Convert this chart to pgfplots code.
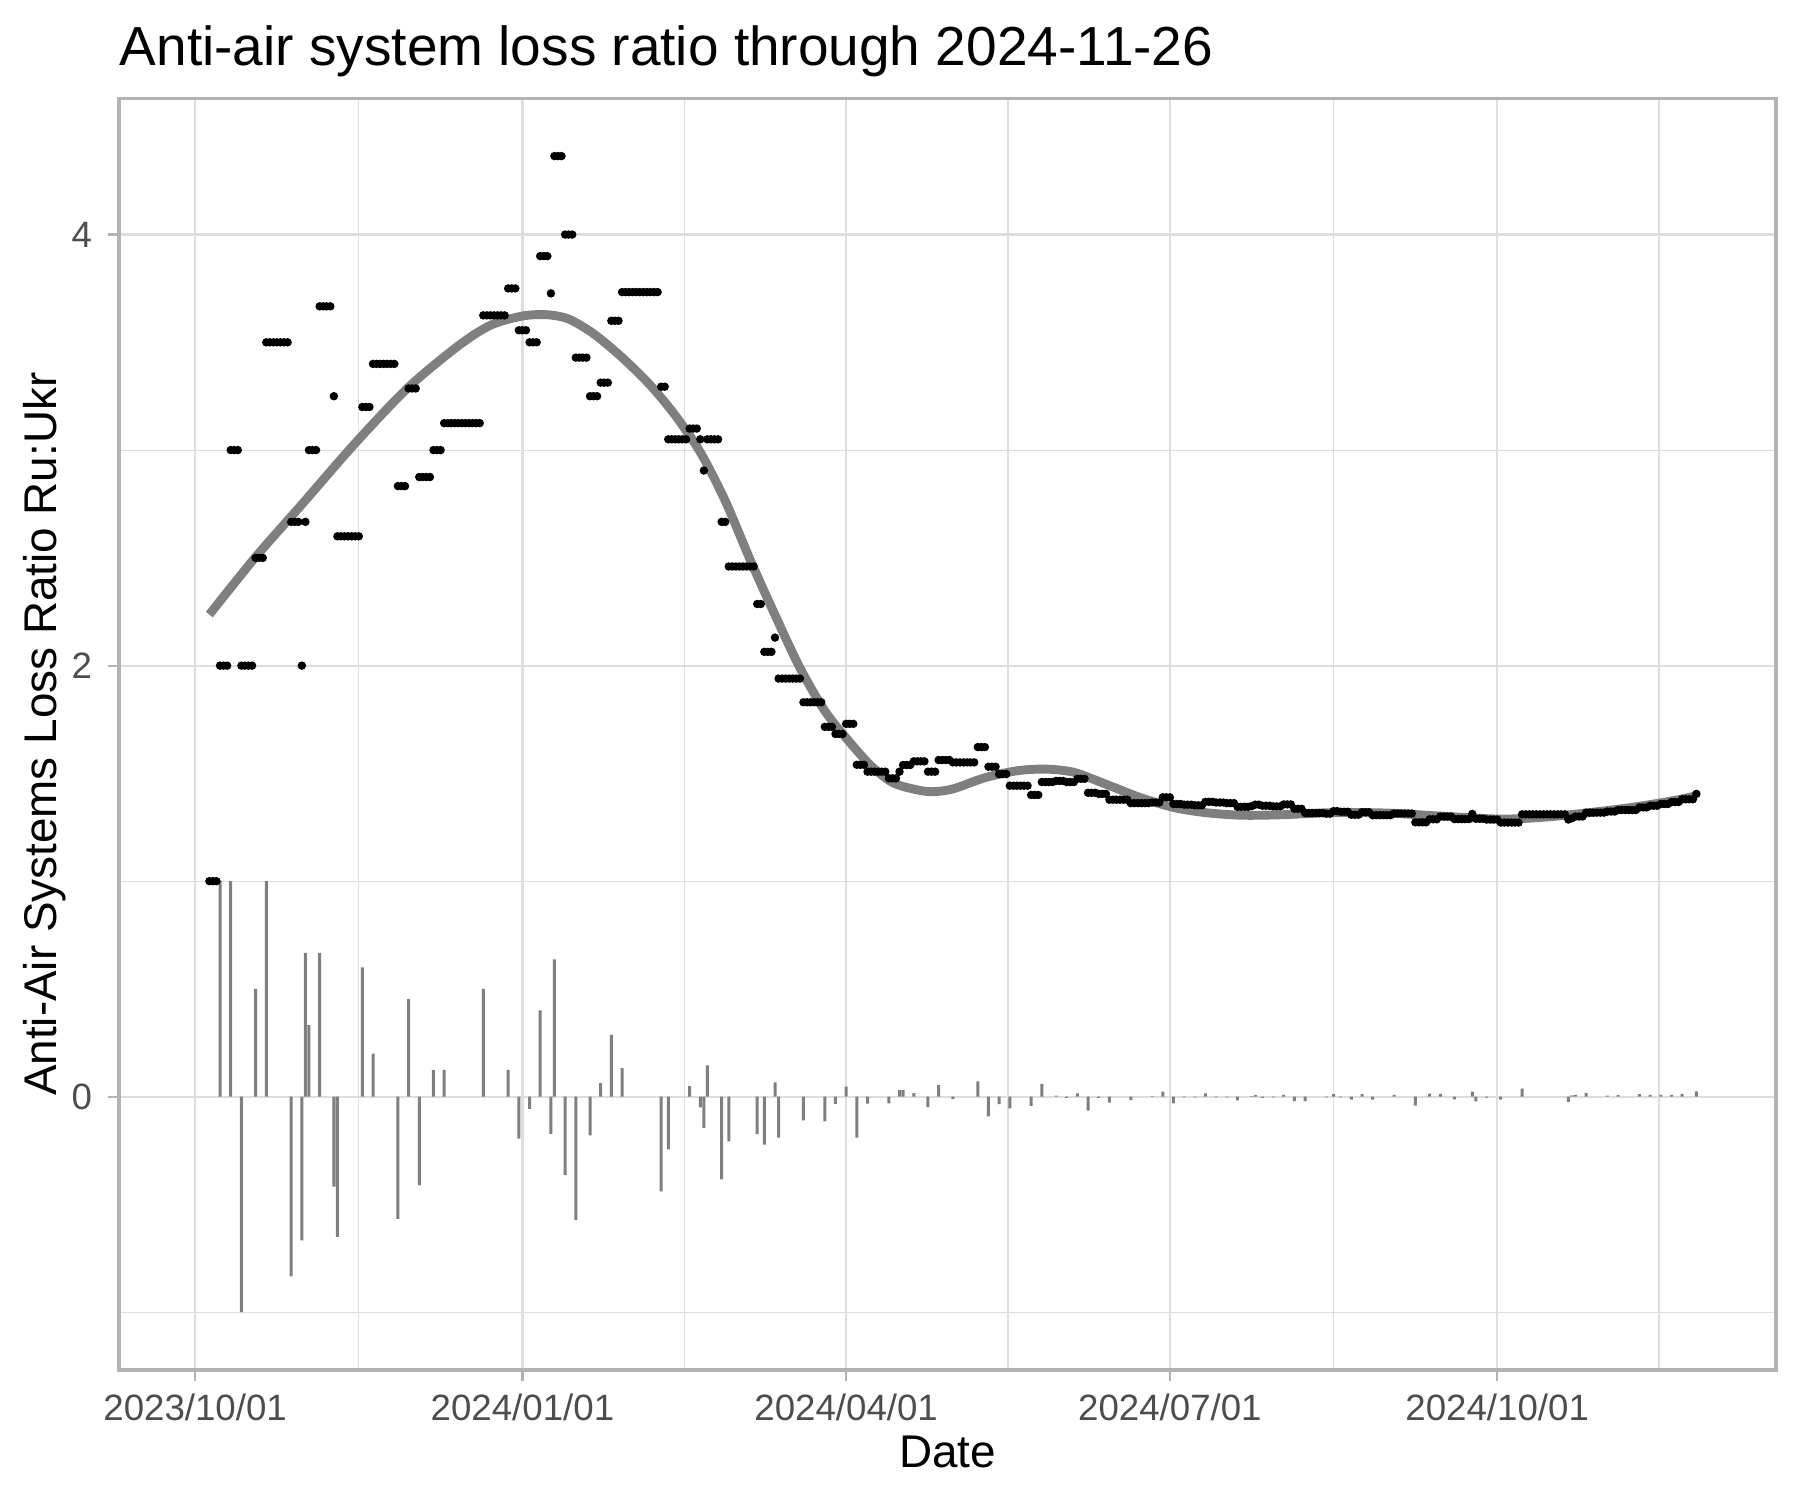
\documentclass[border=0pt]{standalone}
\usepackage{pgfplots}
\pgfplotsset{compat=1.18}
\usepackage{fontspec}
\setmainfont{Liberation Sans}
\definecolor{gg50}{HTML}{7F7F7F}
\definecolor{gg87}{HTML}{DEDEDE}
\definecolor{gg70}{HTML}{B3B3B3}
\definecolor{gg30}{HTML}{4D4D4D}
\begin{document}
\begin{tikzpicture}
\path[use as bounding box] (-28.56pt,-31.2pt) rectangle (403.44pt,328.8pt);
\begin{axis}[
  at={(0pt,0pt)}, anchor=south west,
  scale only axis, width=397.7pt, height=305.2pt,
  xmin=-21.4, xmax=444.4, ymin=-1.268, ymax=4.632,
  xtick={0,92,183,274,366},
  xticklabels={2023/10/01,2024/01/01,2024/04/01,2024/07/01,2024/10/01},
  minor xtick={46,137.5,228.5,320,411.5},
  ytick={0,2,4}, yticklabels={0,2,4},
  minor ytick={-1,1,3},
  grid=both,
  major grid style={gg87, line width=0.53pt},
  minor grid style={gg87, line width=0.27pt},
  axis line style={gg70, line width=0.85pt},
  tick align=outside, xtick pos=left, ytick pos=left,
  major tick length=2.75pt, minor tick length=0pt,
  tick style={gg70, line width=0.53pt},
  tick label style={font=\fontsize{8.8}{10}\selectfont, text=gg30},
  xticklabel style={anchor=base, inner sep=0pt, yshift=-9.35pt},
  yticklabel style={anchor=east, inner sep=0pt, xshift=-3.5pt},
  title={Anti-air system loss ratio through 2024-11-26},
  title style={at={(axis description cs:0,1.028)}, anchor=base west, inner sep=0pt, yshift=-6.6pt, font=\fontsize{13.2}{15.8}\selectfont},
  xlabel={Date},
  xlabel style={at={(axis description cs:0.5,-0.0763)}, anchor=base, inner sep=0pt, font=\fontsize{11}{13}\selectfont},
  ylabel={Anti-Air Systems Loss Ratio Ru:Ukr},
  ylabel style={at={(axis description cs:-0.038,0.5)}, anchor=base, inner sep=0pt, font=\fontsize{11}{13}\selectfont},
]
% daily change of the ratio
\addplot[ybar, bar width=0.72pt, bar shift=0pt, fill=gg50, draw=none] table[row sep=\\] {
x y\\
7 1\\ 10 1\\ 13 -1\\ 17 0.5\\ 20 1\\ 27 -0.833\\ 30 -0.667\\ 31 0.667\\ 32 0.333\\ 35 0.667\\
39 -0.417\\ 40 -0.65\\ 47 0.6\\ 50 0.2\\ 57 -0.567\\ 60 0.453\\ 63 -0.411\\ 67 0.125\\ 70 0.125\\
81 0.5\\ 88 0.125\\ 91 -0.194\\ 94 -0.056\\ 97 0.4\\ 100 -0.173\\ 101 0.637\\ 104 -0.364\\
107 -0.571\\ 111 -0.179\\ 114 0.063\\ 117 0.287\\ 120 0.133\\ 131 -0.439\\ 133 -0.244\\
139 0.05\\ 142 -0.05\\ 143 -0.145\\ 144 0.145\\ 148 -0.383\\ 150 -0.207\\ 158 -0.174\\
160 -0.222\\ 163 0.066\\ 164 -0.19\\ 171 -0.11\\ 177 -0.114\\ 180 -0.033\\ 183 0.047\\
186 -0.19\\ 189 -0.032\\ 195 -0.031\\ 198 0.031\\ 199 0.031\\ 202 0.017\\ 206 -0.048\\
209 0.054\\ 213 -0.011\\ 220 0.071\\ 223 -0.091\\ 226 -0.034\\ 229 -0.054\\ 235 -0.043\\
238 0.06\\ 242 0.005\\ 245 -0.005\\ 248 0.015\\ 251 -0.065\\ 254 -0.005\\ 257 -0.027\\
263 -0.016\\ 269 0.003\\ 272 0.024\\ 275 -0.031\\ 278 -0.003\\ 281 -0.003\\ 284 0.016\\
287 -0.003\\ 290 -0.003\\ 293 -0.017\\ 297 0.003\\ 298 0.007\\ 300 -0.005\\ 303 -0.003\\
306 0.009\\ 309 -0.02\\ 312 -0.02\\ 318 -0.003\\ 320 0.012\\ 322 -0.003\\ 325 -0.014\\
328 0.012\\ 331 -0.014\\ 337 0.008\\ 343 -0.041\\ 347 0.014\\ 350 0.013\\ 354 -0.012\\
359 0.024\\ 360 -0.022\\ 363 -0.004\\ 367 -0.014\\ 373 0.038\\ 386 -0.024\\ 387 0.006\\
388 0.008\\ 391 0.018\\ 397 0.005\\ 400 0.007\\ 406 0.012\\ 409 0.008\\ 412 0.008\\
415 0.009\\ 418 0.013\\ 422 0.025\\
};
% smoothed trend
\addplot[gg50, line width=2.13pt, smooth, no marks] coordinates {
(4,2.237)(17,2.504)(30,2.748)(45,3.032)(60,3.292)(74,3.484)(83,3.579)(92,3.622)(99,3.628)
(105,3.608)(112,3.54)(120,3.43)(128,3.30)(135,3.16)(142,2.99)(149,2.765)(156,2.492)
(163,2.235)(170,1.99)(177,1.79)(184,1.645)(190,1.535)(196,1.458)(202,1.427)(207,1.415)
(213,1.428)(222,1.48)(231,1.512)(239,1.52)(247,1.505)(256,1.45)(265.5,1.389)(275,1.342)
(284,1.318)(294,1.306)(305,1.308)(320,1.318)(335,1.316)(350,1.302)(367,1.288)(380,1.298)
(393,1.32)(405,1.345)(415,1.372)(422,1.396)
};
% daily ratio
\addplot[only marks, mark=*, mark size=0.8pt, black] table[row sep=\\] {
x y\\
4 1\\ 5 1\\ 6 1\\
7 2\\ 8 2\\ 9 2\\
10 3\\ 11 3\\ 12 3\\
13 2\\ 14 2\\ 15 2\\ 16 2\\
17 2.5\\ 18 2.5\\ 19 2.5\\
20 3.5\\ 21 3.5\\ 22 3.5\\ 23 3.5\\ 24 3.5\\ 25 3.5\\ 26 3.5\\
27 2.667\\ 28 2.667\\ 29 2.667\\
30 2\\ 31 2.667\\
32 3\\ 33 3\\ 34 3\\
35 3.667\\ 36 3.667\\ 37 3.667\\ 38 3.667\\
39 3.25\\
40 2.6\\ 41 2.6\\ 42 2.6\\ 43 2.6\\ 44 2.6\\ 45 2.6\\ 46 2.6\\
47 3.2\\ 48 3.2\\ 49 3.2\\
50 3.4\\ 51 3.4\\ 52 3.4\\ 53 3.4\\ 54 3.4\\ 55 3.4\\ 56 3.4\\
57 2.833\\ 58 2.833\\ 59 2.833\\
60 3.286\\ 61 3.286\\ 62 3.286\\
63 2.875\\ 64 2.875\\ 65 2.875\\ 66 2.875\\
67 3\\ 68 3\\ 69 3\\
70 3.125\\ 71 3.125\\ 72 3.125\\ 73 3.125\\ 74 3.125\\ 75 3.125\\ 76 3.125\\ 77 3.125\\ 78 3.125\\ 79 3.125\\ 80 3.125\\
81 3.625\\ 82 3.625\\ 83 3.625\\ 84 3.625\\ 85 3.625\\ 86 3.625\\ 87 3.625\\
88 3.75\\ 89 3.75\\ 90 3.75\\
91 3.556\\ 92 3.556\\ 93 3.556\\
94 3.5\\ 95 3.5\\ 96 3.5\\
97 3.9\\ 98 3.9\\ 99 3.9\\
100 3.727\\
101 4.364\\ 102 4.364\\ 103 4.364\\
104 4\\ 105 4\\ 106 4\\
107 3.429\\ 108 3.429\\ 109 3.429\\ 110 3.429\\
111 3.25\\ 112 3.25\\ 113 3.25\\
114 3.313\\ 115 3.313\\ 116 3.313\\
117 3.6\\ 118 3.6\\ 119 3.6\\
120 3.733\\ 121 3.733\\ 122 3.733\\ 123 3.733\\ 124 3.733\\ 125 3.733\\ 126 3.733\\ 127 3.733\\ 128 3.733\\ 129 3.733\\ 130 3.733\\
131 3.294\\ 132 3.294\\
133 3.05\\ 134 3.05\\ 135 3.05\\ 136 3.05\\ 137 3.05\\ 138 3.05\\
139 3.1\\ 140 3.1\\ 141 3.1\\
142 3.05\\ 143 2.905\\
144 3.05\\ 145 3.05\\ 146 3.05\\ 147 3.05\\
148 2.667\\ 149 2.667\\
150 2.46\\ 151 2.46\\ 152 2.46\\ 153 2.46\\ 154 2.46\\ 155 2.46\\ 156 2.46\\ 157 2.46\\
158 2.286\\ 159 2.286\\
160 2.064\\ 161 2.064\\ 162 2.064\\
163 2.13\\
164 1.94\\ 165 1.94\\ 166 1.94\\ 167 1.94\\ 168 1.94\\ 169 1.94\\ 170 1.94\\
171 1.83\\ 172 1.83\\ 173 1.83\\ 174 1.83\\ 175 1.83\\ 176 1.83\\
177 1.716\\ 178 1.716\\ 179 1.716\\
180 1.683\\ 181 1.683\\ 182 1.683\\
183 1.73\\ 184 1.73\\ 185 1.73\\
186 1.54\\ 187 1.54\\ 188 1.54\\
189 1.508\\ 190 1.508\\ 191 1.508\\ 192 1.508\\ 193 1.508\\ 194 1.508\\
195 1.477\\ 196 1.477\\ 197 1.477\\
198 1.508\\
199 1.539\\ 200 1.539\\ 201 1.539\\
202 1.556\\ 203 1.556\\ 204 1.556\\ 205 1.556\\
206 1.508\\ 207 1.508\\ 208 1.508\\
209 1.562\\ 210 1.562\\ 211 1.562\\ 212 1.562\\
213 1.551\\ 214 1.551\\ 215 1.551\\ 216 1.551\\ 217 1.551\\ 218 1.551\\ 219 1.551\\
220 1.622\\ 221 1.622\\ 222 1.622\\
223 1.531\\ 224 1.531\\ 225 1.531\\
226 1.497\\ 227 1.497\\ 228 1.497\\
229 1.443\\ 230 1.443\\ 231 1.443\\ 232 1.443\\ 233 1.443\\ 234 1.443\\
235 1.4\\ 236 1.4\\ 237 1.4\\
238 1.46\\ 239 1.46\\ 240 1.46\\ 241 1.46\\
242 1.465\\ 243 1.465\\ 244 1.465\\
245 1.46\\ 246 1.46\\ 247 1.46\\
248 1.475\\ 249 1.475\\ 250 1.475\\
251 1.41\\ 252 1.41\\ 253 1.41\\
254 1.405\\ 255 1.405\\ 256 1.405\\
257 1.378\\ 258 1.378\\ 259 1.378\\ 260 1.378\\ 261 1.378\\ 262 1.378\\
263 1.362\\ 264 1.362\\ 265 1.362\\ 266 1.362\\ 267 1.362\\ 268 1.362\\
269 1.365\\ 270 1.365\\ 271 1.365\\
272 1.389\\ 273 1.389\\ 274 1.389\\
275 1.358\\ 276 1.358\\ 277 1.358\\
278 1.355\\ 279 1.355\\ 280 1.355\\
281 1.352\\ 282 1.352\\ 283 1.352\\
284 1.368\\ 285 1.368\\ 286 1.368\\
287 1.365\\ 288 1.365\\ 289 1.365\\
290 1.362\\ 291 1.362\\ 292 1.362\\
293 1.345\\ 294 1.345\\ 295 1.345\\ 296 1.345\\
297 1.348\\ 298 1.355\\ 299 1.355\\
300 1.35\\ 301 1.35\\ 302 1.35\\
303 1.347\\ 304 1.347\\ 305 1.347\\
306 1.356\\ 307 1.356\\ 308 1.356\\
309 1.336\\ 310 1.336\\ 311 1.336\\
312 1.316\\ 313 1.316\\ 314 1.316\\ 315 1.316\\ 316 1.316\\ 317 1.316\\
318 1.313\\ 319 1.313\\
320 1.325\\ 321 1.325\\
322 1.322\\ 323 1.322\\ 324 1.322\\
325 1.308\\ 326 1.308\\ 327 1.308\\
328 1.32\\ 329 1.32\\ 330 1.32\\
331 1.306\\ 332 1.306\\ 333 1.306\\ 334 1.306\\ 335 1.306\\ 336 1.306\\
337 1.314\\ 338 1.314\\ 339 1.314\\ 340 1.314\\ 341 1.314\\ 342 1.314\\
343 1.273\\ 344 1.273\\ 345 1.273\\ 346 1.273\\
347 1.287\\ 348 1.287\\ 349 1.287\\
350 1.3\\ 351 1.3\\ 352 1.3\\ 353 1.3\\
354 1.288\\ 355 1.288\\ 356 1.288\\ 357 1.288\\ 358 1.288\\
359 1.312\\
360 1.29\\ 361 1.29\\ 362 1.29\\
363 1.286\\ 364 1.286\\ 365 1.286\\ 366 1.286\\
367 1.272\\ 368 1.272\\ 369 1.272\\ 370 1.272\\ 371 1.272\\ 372 1.272\\
373 1.31\\ 374 1.31\\ 375 1.31\\ 376 1.31\\ 377 1.31\\ 378 1.31\\ 379 1.31\\ 380 1.31\\ 381 1.31\\ 382 1.31\\ 383 1.31\\ 384 1.31\\ 385 1.31\\
386 1.286\\ 387 1.292\\
388 1.3\\ 389 1.3\\ 390 1.3\\
391 1.318\\ 392 1.318\\ 393 1.318\\ 394 1.318\\ 395 1.318\\ 396 1.318\\
397 1.323\\ 398 1.323\\ 399 1.323\\
400 1.33\\ 401 1.33\\ 402 1.33\\ 403 1.33\\ 404 1.33\\ 405 1.33\\
406 1.342\\ 407 1.342\\ 408 1.342\\
409 1.35\\ 410 1.35\\ 411 1.35\\
412 1.358\\ 413 1.358\\ 414 1.358\\
415 1.367\\ 416 1.367\\ 417 1.367\\
418 1.38\\ 419 1.38\\ 420 1.38\\ 421 1.38\\
422 1.405\\
};
\end{axis}
\end{tikzpicture}
\end{document}
